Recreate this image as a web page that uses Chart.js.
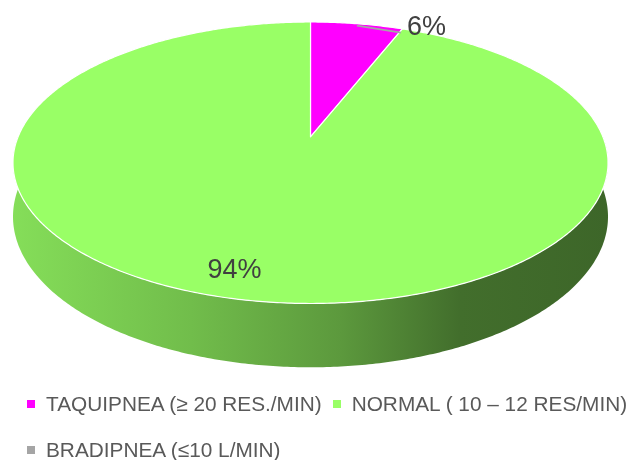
<!DOCTYPE html>
<html>
<head>
<meta charset="utf-8">
<script src="https://cdn.jsdelivr.net/npm/chart.js@4.4.1/dist/chart.umd.min.js"></script>
<style>
  html, body { margin: 0; padding: 0; background: #fff; overflow: hidden; }
  #wrap { position: relative; width: 630px; height: 460px; }
  #chart { position: absolute; left: 0; top: 0; }
  #legend {
    position: absolute; left: 27px; top: 394px; width: 612px;
    display: flex; flex-wrap: wrap; column-gap: 11px; row-gap: 26px;
    font-family: "Liberation Sans", Arial, sans-serif; font-size: 20.8px; line-height: 20px; color: #595959;
  }
  .item { display: flex; align-items: center; white-space: nowrap; }
  .box { width: 8px; height: 8px; margin-right: 11px; flex: none; }
</style>
</head>
<body>
<div id="wrap">
  <canvas id="chart" width="630" height="460"></canvas>
  <div id="legend"></div>
</div>
<script>
//Data
const labels = ['TAQUIPNEA (≥ 20 RES./MIN)', 'NORMAL ( 10 – 12 RES/MIN)', 'BRADIPNEA (≤10 L/MIN)']
const values = [6, 94, 0]
const colors = ['#FF00FF', '#99FF66', '#A5A5A5']

//3D look (perspective of the tilted disc)
const TILT = 0.184
const FLAT = 0.465
const DEPTH = 0.178

const shade = (hex, f) => {
  const n = parseInt(hex.slice(1), 16)
  const r = Math.round(((n >> 16) & 255) * f)
  const g = Math.round(((n >> 8) & 255) * f)
  const b = Math.round((n & 255) * f)
  return `rgb(${r},${g},${b})`
}

const geometry = (chart) => {
  const a = chart.chartArea
  const A = (a.right - a.left) / 2 * Math.sqrt(1 - TILT * TILT)
  const B = A * FLAT
  return { cx: (a.left + a.right) / 2, cy: a.top + B / (1 + TILT), A, B, D: A * DEPTH }
}

const proj = (g, ang, frac = 1, drop = 0) => {
  const u = frac * Math.cos(ang)
  const v = frac * Math.sin(ang)
  const w = 1 - TILT * v
  return { x: g.cx + g.A * u / w, y: g.cy + (g.B * v + drop) / w }
}

const rimPath = (ctx, g, a1, a2, drop) => {
  const steps = Math.max(2, Math.ceil(Math.abs(a2 - a1) / 0.01))
  for (let i = 0; i <= steps; i++) {
    const p = proj(g, a1 + (a2 - a1) * i / steps, 1, drop)
    ctx.lineTo(p.x, p.y)
  }
}

const pie3d = {
  id: 'pie3d',
  beforeDatasetsDraw(chart) {
    const ctx = chart.ctx
    const g = geometry(chart)
    const arcs = chart.getDatasetMeta(0).data
    ctx.save()
    // side walls, only the front half is seen
    arcs.forEach((arc, i) => {
      const { startAngle, endAngle } = arc.getProps(['startAngle', 'endAngle'], true)
      if (endAngle - startAngle <= 0) return
      for (const k of [-2 * Math.PI, 0, 2 * Math.PI]) {
        const a1 = Math.max(startAngle, k)
        const a2 = Math.min(endAngle, k + Math.PI)
        if (a2 <= a1) continue
        const grad = ctx.createLinearGradient(g.cx - g.A * 1.02, 0, g.cx + g.A * 1.02, 0)
        grad.addColorStop(0, shade(colors[i], 0.87))
        grad.addColorStop(0.3, shade(colors[i], 0.74))
        grad.addColorStop(0.55, shade(colors[i], 0.6))
        grad.addColorStop(0.75, shade(colors[i], 0.43))
        grad.addColorStop(1, shade(colors[i], 0.4))
        ctx.beginPath()
        rimPath(ctx, g, a1, a2, 0)
        rimPath(ctx, g, a2, a1, g.D)
        ctx.closePath()
        ctx.fillStyle = grad
        ctx.fill()
      }
    })
    // top faces
    arcs.forEach((arc, i) => {
      const { startAngle, endAngle } = arc.getProps(['startAngle', 'endAngle'], true)
      if (endAngle - startAngle <= 0) return
      ctx.beginPath()
      ctx.moveTo(g.cx, g.cy)
      rimPath(ctx, g, startAngle, endAngle, 0)
      ctx.closePath()
      ctx.fillStyle = colors[i]
      ctx.fill()
      ctx.strokeStyle = '#ffffff'
      ctx.lineWidth = 1.2
      ctx.lineJoin = 'round'
      ctx.stroke()
    })
    ctx.restore()
    return false
  },
  afterDraw(chart) {
    const ctx = chart.ctx
    const g = geometry(chart)
    const total = values.reduce((s, v) => s + v, 0)
    const arcs = chart.getDatasetMeta(0).data
    ctx.save()
    ctx.font = '27px "Liberation Sans", Arial, sans-serif'
    ctx.fillStyle = '#404040'
    ctx.textBaseline = 'middle'
    arcs.forEach((arc, i) => {
      if (!values[i]) return
      const { startAngle, endAngle } = arc.getProps(['startAngle', 'endAngle'], true)
      const mid = (startAngle + endAngle) / 2
      const txt = Math.round(values[i] / total * 100) + '%'
      if (values[i] / total < 0.1) {
        const p = proj(g, mid)
        ctx.beginPath()
        ctx.moveTo(p.x, p.y + 2)
        ctx.lineTo(p.x + 44, p.y + 9)
        ctx.strokeStyle = '#A6A6A6'
        ctx.lineWidth = 1.8
        ctx.stroke()
        ctx.textAlign = 'left'
        ctx.fillText(txt, p.x + 50, p.y + 4)
      } else {
        const p = proj(g, mid + 0.07, 0.86)
        ctx.textAlign = 'center'
        ctx.fillText(txt, p.x, p.y)
      }
    })
    ctx.restore()
  }
}

const ctx = document.getElementById('chart').getContext('2d')
const myChart = new Chart(ctx, {
  type: 'pie',
  data: {
    labels: labels,
    datasets: [{ data: values, backgroundColor: colors, borderColor: '#ffffff', borderWidth: 1 }]
  },
  options: {
    responsive: false,
    animation: false,
    events: [],
    layout: { padding: { top: 22, left: 13, right: 22, bottom: 70 } },
    plugins: {
      legend: { display: false },
      tooltip: { enabled: false }
    }
  },
  plugins: [pie3d]
})

//Legend
const legend = document.getElementById('legend')
labels.forEach((name, i) => {
  legend.innerHTML += `<div class="item"><span class="box" style="background:${colors[i]}"></span>${name}</div>`
})
</script>
</body>
</html>
